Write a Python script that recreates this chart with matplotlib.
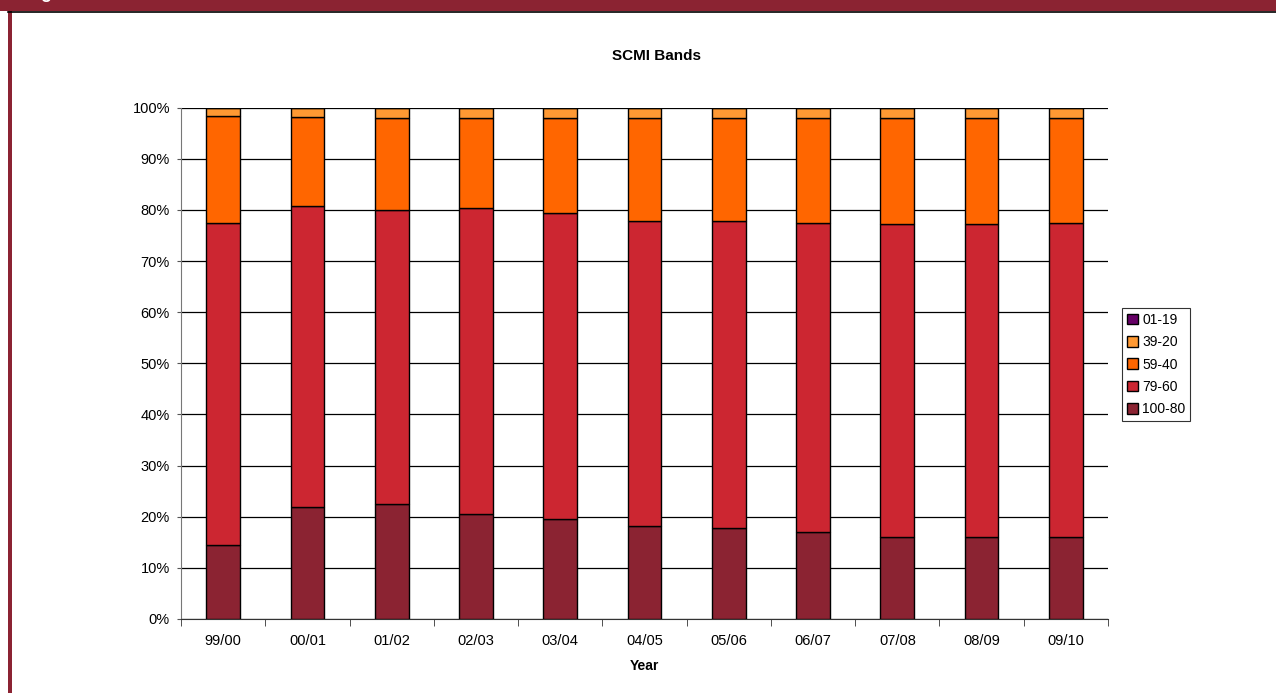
import numpy as np
import matplotlib
matplotlib.use("Agg")
import matplotlib.pyplot as plt
from matplotlib.patches import Rectangle

plt.rcParams["font.family"] = ["Liberation Sans", "DejaVu Sans"]

# Data (percent of pupils in each SCMI band)
years = ["99/00", "00/01", "01/02", "02/03", "03/04", "04/05",
         "05/06", "06/07", "07/08", "08/09", "09/10"]
band_100_80 = [14.4, 22.0, 22.5, 20.5, 19.5, 18.2, 17.8, 17.0, 16.0, 16.0, 16.0]
band_79_60 = [63.1, 58.7, 57.5, 59.8, 59.9, 59.7, 60.0, 60.5, 61.2, 61.2, 61.4]
band_59_40 = [20.9, 17.5, 17.9, 17.7, 18.6, 20.1, 20.1, 20.4, 20.7, 20.7, 20.5]
band_39_20 = [1.6, 1.8, 2.1, 2.0, 2.0, 2.0, 2.1, 2.1, 2.1, 2.1, 2.1]
band_01_19 = [0, 0, 0, 0, 0, 0, 0, 0, 0, 0, 0]

band_labels = ["100-80", "79-60", "59-40", "39-20", "01-19"]
band_colors = ["#8B2332", "#CC2631", "#FF6600", "#FF9933", "#660066"]

W, H = 1276, 693
fig = plt.figure(figsize=(W / 100, H / 100), dpi=100)

# Frame: dark red header bar and left border
fig.patches.append(Rectangle((0, 1 - 11 / H), 1, 11 / H, transform=fig.transFigure,
                             facecolor="#8B2332", edgecolor="none", zorder=0))
fig.add_artist(plt.Line2D([8 / W, 1], [1 - 11.5 / H, 1 - 11.5 / H], transform=fig.transFigure,
                          color="black", lw=1.2))
fig.patches.append(Rectangle((8 / W, 0), 3.5 / W, 1, transform=fig.transFigure,
                             facecolor="#8B2332", edgecolor="none", zorder=0))
# header caption, mostly outside the top edge as in the source screenshot
fig.text(26 / W, 1 + 1.5 / H, "Fig", color="white", fontsize=13, fontweight="bold",
         va="baseline", ha="left")

ax = fig.add_axes([181 / W, 1 - 619 / H, (1108 - 181) / W, (619 - 107.7) / H])

series = [band_100_80, band_79_60, band_59_40, band_39_20, band_01_19]
x = np.arange(len(years))
bottom = np.zeros(len(years))
handles = []
for vals, lab, col in zip(series, band_labels, band_colors):
    vals = np.array(vals, dtype=float)
    b = ax.bar(x, vals, width=0.4, bottom=bottom, color=col, edgecolor="black",
               linewidth=1, label=lab, zorder=3)
    handles.append(b)
    bottom += vals

ax.set_ylim(0, 100)
ax.set_xlim(-0.5, len(years) - 0.5)
ax.set_yticks(np.arange(0, 101, 10))
ax.set_yticklabels([f"{v}%" for v in range(0, 101, 10)])
ax.yaxis.grid(True, color="black", linewidth=0.9, zorder=0)
ax.set_axisbelow(True)

ax.set_xticks(x)
ax.set_xticklabels(years)
ax.set_xticks(np.arange(-0.5, len(years), 1), minor=True)
ax.tick_params(axis="x", which="major", length=0, pad=11, labelsize=10.5)
ax.tick_params(axis="x", which="minor", length=5, direction="out", color="#333333")
ax.tick_params(axis="y", length=3, direction="out", labelsize=10.5, color="#555555", pad=5)

for s in ["top", "right"]:
    ax.spines[s].set_visible(False)
ax.spines["left"].set_color("#777777")
ax.spines["bottom"].set_color("#333333")

fig.text(656 / W, 1 - 56 / H, "SCMI Bands", fontsize=11, fontweight="bold",
         ha="center", va="center")
ax.set_xlabel("Year", fontsize=10, fontweight="bold", labelpad=8)

leg = ax.legend(handles[::-1], band_labels[::-1], loc="upper left",
                bbox_to_anchor=(1122 / W, 1 - 308 / H), bbox_transform=fig.transFigure,
                fontsize=10, frameon=True, fancybox=False, edgecolor="black",
                handlelength=0.8, handleheight=0.8, handletextpad=0.3,
                labelspacing=0.6, borderpad=0.35, borderaxespad=0)
leg.get_frame().set_linewidth(0.8)

fig.savefig("out.png", dpi=100, facecolor="white")
